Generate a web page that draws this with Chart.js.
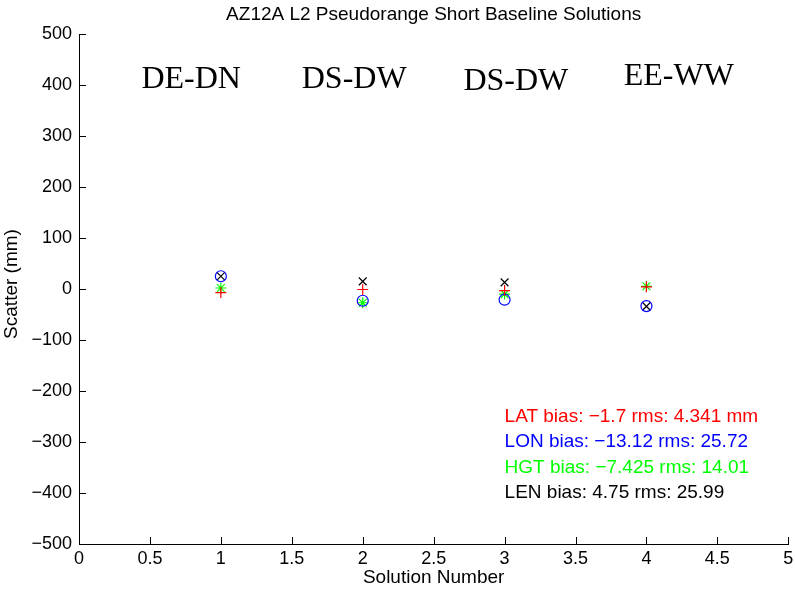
<!DOCTYPE html>
<html>
<head>
<meta charset="utf-8">
<script src="https://cdn.jsdelivr.net/npm/chart.js@4.4.0/dist/chart.umd.min.js"></script>
<style>
html, body { margin: 0; padding: 0; background: #fff; }
#wrap { width: 795px; height: 592px; position: relative; }
</style>
</head>
<body>
<div id="wrap"><canvas id="scatterChart"></canvas></div>
<script>
const solutions = [1, 2, 3, 4];
const latScatter = [-7, -1, -3, 4.2];
const lonScatter = [25, -23, -21, -33.5];
const hgtScatter = [2, -27, -10, 5.3];
const lenScatter = [25, 15, 13, -34];

const baselineNames = ["DE-DN", "DS-DW", "DS-DW", "EE-WW"];
const baselineX = [0.44, 1.57, 2.71, 3.84];
const baselineY = [394, 394, 390, 400];

const statLines = [
    "LAT bias: \u22121.7 rms: 4.341 mm",
    "LON bias: \u221213.12 rms: 25.72",
    "HGT bias: \u22127.425 rms: 14.01",
    "LEN bias: 4.75 rms: 25.99"
];
const statColors = ["#ff0000", "#0000ff", "#00ff00", "#000000"];
const statY = [-250, -300, -350, -400];

const sans = "'Liberation Sans', Arial, sans-serif";

function points(values) {
    return solutions.map((s, i) => ({ x: s, y: values[i] }));
}

function series(label, values, color, style) {
    return {
        label: label,
        data: points(values),
        pointStyle: style,
        pointRadius: 5.5,
        pointHoverRadius: 5.5,
        borderColor: color,
        backgroundColor: "rgba(0,0,0,0)",
        pointBorderWidth: 1.2,
        showLine: false
    };
}

const annotations = {
    id: "annotations",
    afterDraw(chart) {
        const ctx = chart.ctx;
        const xs = chart.scales.x;
        const ys = chart.scales.y;
        const area = chart.chartArea;
        ctx.save();

        // inward tick marks
        ctx.strokeStyle = "#000";
        ctx.lineWidth = 1;
        ctx.beginPath();
        xs.ticks.forEach(t => {
            const px = Math.round(xs.getPixelForValue(t.value)) + 0.5;
            ctx.moveTo(px, area.bottom);
            ctx.lineTo(px, area.bottom - 7);
        });
        ys.ticks.forEach(t => {
            const py = Math.round(ys.getPixelForValue(t.value)) + 0.5;
            ctx.moveTo(area.left, py);
            ctx.lineTo(area.left + 7, py);
        });
        ctx.stroke();

        // baseline names
        ctx.fillStyle = "#000";
        ctx.font = "32px 'Liberation Serif', 'Times New Roman', serif";
        ctx.textAlign = "left";
        ctx.textBaseline = "alphabetic";
        baselineNames.forEach((name, i) => {
            ctx.fillText(name, xs.getPixelForValue(baselineX[i]), ys.getPixelForValue(baselineY[i]));
        });

        // bias / rms summary
        ctx.font = "19px " + sans;
        ctx.textBaseline = "middle";
        statLines.forEach((line, i) => {
            ctx.fillStyle = statColors[i];
            ctx.fillText(line, xs.getPixelForValue(3), ys.getPixelForValue(statY[i]));
        });

        // titles
        ctx.fillStyle = "#000";
        ctx.font = "19px " + sans;
        ctx.textAlign = "center";
        const cx = (area.left + area.right) / 2;
        ctx.fillText("AZ12A L2 Pseudorange Short Baseline Solutions", cx, 15);
        ctx.fillText("Solution Number", cx, 578);
        ctx.translate(12, 284);
        ctx.rotate(-Math.PI / 2);
        ctx.fillText("Scatter (mm)", 0, 0);
        ctx.restore();
    }
};

const ctx = document.getElementById("scatterChart").getContext("2d");
new Chart(ctx, {
    type: "scatter",
    data: {
        datasets: [
            series("LAT", latScatter, "#ff0000", "cross"),
            series("LON", lonScatter, "#0000ff", "circle"),
            series("HGT", hgtScatter, "#00ff00", "star"),
            series("LEN", lenScatter, "#000000", "crossRot")
        ]
    },
    options: {
        responsive: true,
        maintainAspectRatio: false,
        animation: false,
        layout: { padding: { top: 34, right: 6, left: 0, bottom: 0 } },
        plugins: {
            legend: { display: false },
            tooltip: { enabled: false },
            title: { display: false }
        },
        scales: {
            x: {
                type: "linear",
                min: 0,
                max: 5,
                ticks: {
                    stepSize: 0.5,
                    padding: 4,
                    color: "#000",
                    font: { family: sans, size: 18 },
                    maxRotation: 0,
                    callback: v => String(v)
                },
                grid: { display: false, drawTicks: false },
                border: { display: true, color: "#000", width: 1 },
                afterFit(scale) {
                    scale.height = 48;
                    scale.paddingLeft = 0;
                    scale.paddingRight = 0;
                }
            },
            y: {
                min: -500,
                max: 500,
                ticks: {
                    stepSize: 100,
                    padding: 7,
                    color: "#000",
                    font: { family: sans, size: 18 },
                    callback: v => String(v).replace("-", "\u2212")
                },
                grid: { display: false, drawTicks: false },
                border: { display: true, color: "#000", width: 1 },
                afterFit(scale) { scale.width = 79; }
            }
        }
    },
    plugins: [annotations]
});
</script>
</body>
</html>
